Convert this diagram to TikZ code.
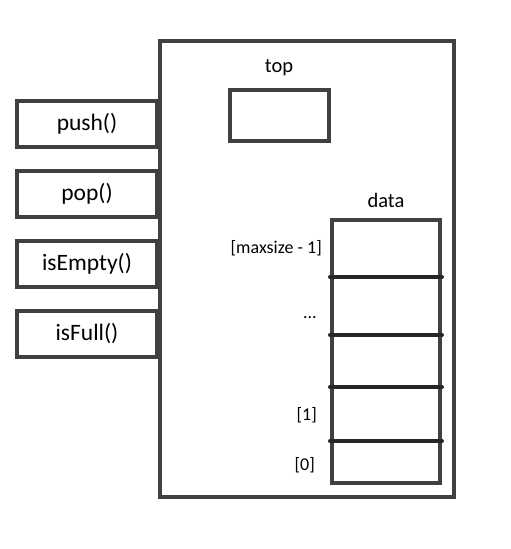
\documentclass[tikz,border=0pt]{standalone}
\usepackage{fontspec}
\setmainfont{Carlito}
\usetikzlibrary{positioning}
\definecolor{boxgray}{rgb}{0.25,0.25,0.25}
\definecolor{cellgray}{rgb}{0.15,0.15,0.15}
\tikzset{
  metodo/.style={
    draw=boxgray,
    line width=4pt,
    minimum width=140pt,
    minimum height=46pt,
    inner sep=0pt,
    font=\fontsize{23.5}{28}\selectfont
  },
  campo/.style={
    draw=boxgray,
    line width=4pt,
    inner sep=0pt
  },
  etiqueta/.style={
    inner sep=0pt,
    font=\fontsize{20.5}{24}\selectfont
  },
  indice/.style={
    inner sep=0pt,
    anchor=east,
    font=\fontsize{18}{22}\selectfont
  },
  divisor/.style={
    cellgray,
    line width=4pt,
    line cap=round
  }
}

\begin{document}
\begin{tikzpicture}[x=1pt,y=-1pt,node distance=20pt]
\useasboundingbox (0,0) rectangle (511,549);
% metodos
\node[metodo] (push) at (87,123.5) {push()};
\node[metodo, below=of push] (pop) {pop()};
\node[metodo, below=of pop] (isempty) {isEmpty()};
\node[metodo, below=of isempty] (isfull) {isFull()};
% pila
\node[campo, minimum width=294pt, minimum height=456pt] (pila) at (307,269) {};
\node[campo, minimum width=99pt, minimum height=51pt] (top) at (279.5,115.5) {};
\node[etiqueta] (toplbl) at (279,68) {top};
\node[campo, minimum width=108pt, minimum height=263pt] (data) at (386,351.5) {};
\node[etiqueta] (datalbl) at (386,200) {data};
\foreach \y in {277,335,387,441}
  \draw[divisor] (data.west |- 0,\y) -- (data.east |- 0,\y);
% indices
\node[indice] (imax) at (322,248) {[maxsize - 1]};
\node[indice] (idots) at (317,318) {...};
\node[indice] (i1) at (317,415) {[1]};
\node[indice] (i0) at (315,465) {[0]};
\end{tikzpicture}
\end{document}
